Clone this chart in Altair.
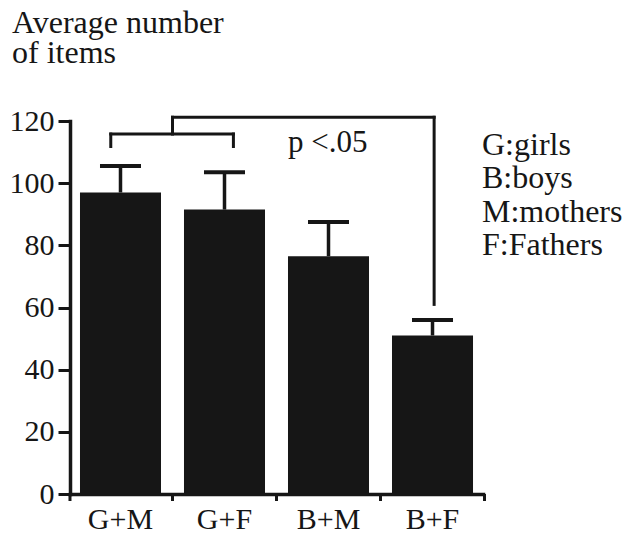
import altair as alt
import pandas as pd

# Groups and their mean item counts with error-bar extents
groups = ["G+M", "G+F", "B+M", "B+F"]
means = [97.0, 91.5, 76.5, 51.0]
errors = [8.5, 12.0, 11.0, 5.0]

title_lines = ["Average number", "of items"]
legend_lines = ["G:girls", "B:boys", "M:mothers", "F:Fathers"]
p_label = "p <.05"
y_ticks = [0, 20, 40, 60, 80, 100, 120]

INK = "#161616"
FONT = "'Liberation Serif', 'Times New Roman', 'DejaVu Serif', serif"
HALF_GAP = 11.5  # half the space between neighbouring bars, in px

df = pd.DataFrame({"group": groups, "mean": means, "err": errors})
df["upper"] = df["mean"] + df["err"]

xscale = alt.Scale(domain=groups, paddingInner=0.221, paddingOuter=0.096)
yscale = alt.Scale(domain=[0, 120], nice=False)

base = alt.Chart(df)

bars = base.mark_bar(color=INK).encode(
    x=alt.X("group:N", scale=xscale, title=None,
            axis=alt.Axis(ticks=False, labelAngle=0, labelFont=FONT)),
    y=alt.Y("mean:Q", scale=yscale, title=None,
            axis=alt.Axis(values=y_ticks, grid=False, labelFont=FONT)),
)

stems = base.mark_rule(color=INK, strokeWidth=3.5).encode(
    x=alt.X("group:N", title=None),
    y=alt.Y("mean:Q", title=None),
    y2="upper:Q",
)

caps = base.mark_tick(color=INK, size=41, thickness=4, opacity=1).encode(
    x=alt.X("group:N", title=None),
    y=alt.Y("upper:Q", title=None),
)

# x-axis ticks sit in the gaps between bars
gap_ticks = base.mark_rule(color=INK, strokeWidth=3, y2Offset=7, xOffset=HALF_GAP).encode(
    x=alt.X("group:N", bandPosition=1, title=None),
    y=alt.datum(0),
    y2=alt.datum(0),
)
first_tick = alt.Chart(pd.DataFrame({"group": [groups[0]]})).mark_rule(
    color=INK, strokeWidth=3, y2Offset=7, xOffset=-10
).encode(
    x=alt.X("group:N", bandPosition=0, title=None),
    y=alt.datum(0),
    y2=alt.datum(0),
)


def vseg(group, band, y0, y1, dx=0):
    d = pd.DataFrame({"group": [group], "y0": [y0], "y1": [y1]})
    return alt.Chart(d).mark_rule(
        color=INK, strokeWidth=3, strokeCap="square", xOffset=dx
    ).encode(
        x=alt.X("group:N", bandPosition=band, title=None),
        y=alt.Y("y0:Q", title=None),
        y2="y1:Q",
    )


def hseg(g1, b1, g2, b2, y, dx=0):
    d = pd.DataFrame({"group": [g1], "group2": [g2], "y": [y]})
    return alt.Chart(d).mark_rule(
        color=INK, strokeWidth=3, strokeCap="square", xOffset=dx
    ).encode(
        x=alt.X("group:N", bandPosition=b1, title=None),
        x2=alt.X2("group2", bandPosition=b2),
        y=alt.Y("y:Q", title=None),
    )


# significance brackets: G+M/G+F pair against B+F
brackets = [
    hseg("G+M", 0.38, "G+F", 0.61, 115.8),
    vseg("G+M", 0.38, 111.8, 115.8),
    vseg("G+F", 0.61, 111.8, 115.8),
    vseg("G+M", 1, 115.8, 121.2, dx=HALF_GAP),
    hseg("G+M", 1, "B+F", 0.52, 121.2, dx=HALF_GAP),
    vseg("B+F", 0.52, 61.0, 121.2),
]

p_text = alt.Chart(pd.DataFrame({"group": ["B+M"], "y": [110.1]})).mark_text(
    align="left", baseline="alphabetic", font=FONT, fontSize=31, color=INK
).encode(
    x=alt.X("group:N", bandPosition=0, title=None),
    y=alt.Y("y:Q", title=None),
    text=alt.value(p_label),
)

one = pd.DataFrame({"k": [0]})
title_text = alt.Chart(one).mark_text(
    align="left", baseline="alphabetic", font=FONT, fontSize=32,
    lineHeight=30, color=INK
).encode(x=alt.value(-58), y=alt.value(-88), text=alt.value(title_lines))

legend_text = alt.Chart(one).mark_text(
    align="left", baseline="alphabetic", font=FONT, fontSize=32,
    lineHeight=33.3, color=INK
).encode(x=alt.value(412), y=alt.value(34), text=alt.value(legend_lines))

chart = alt.layer(
    bars, stems, caps, gap_ticks, first_tick, *brackets, p_text,
    title_text, legend_text
).properties(
    width=413,
    height=373,
    autosize=alt.AutoSizeParams(type="none"),
    padding={"left": 70, "top": 121, "right": 140, "bottom": 42},
    background="white",
).configure_view(
    stroke=None
).configure_axis(
    domainColor=INK,
    domainWidth=3.5,
    domainCap="square",
    tickColor=INK,
    tickWidth=3,
    labelFont=FONT,
    labelColor=INK,
).configure_axisX(
    labelFontSize=30,
    labelPadding=10,
).configure_axisY(
    tickSize=12,
    labelFontSize=30,
    labelPadding=4,
)

chart.save("out.html", embed_options={"renderer": "svg", "actions": False})
